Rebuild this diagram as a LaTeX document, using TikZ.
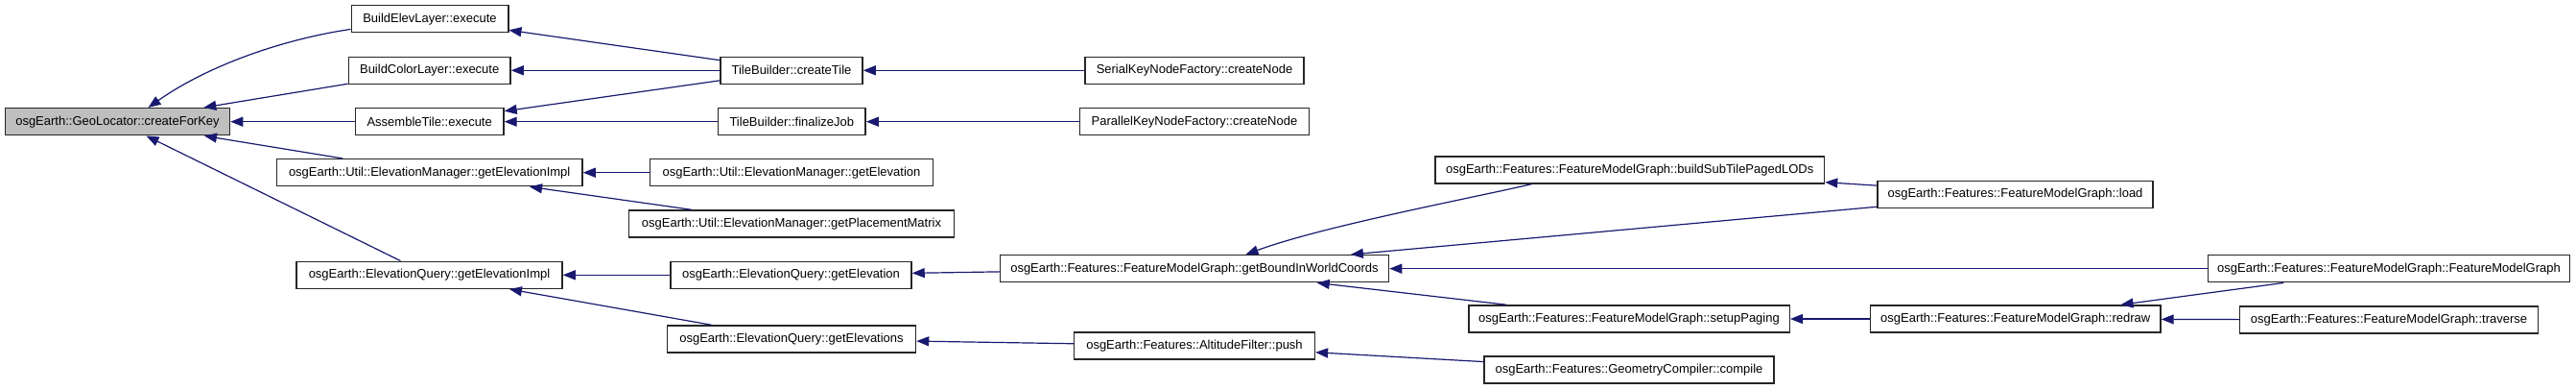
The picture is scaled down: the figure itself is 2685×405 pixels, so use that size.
\documentclass[tikz,border=0pt]{standalone}
\usepackage{fontspec}
\setmainfont{Liberation Sans}
\usetikzlibrary{arrows.meta}
\definecolor{edgeblue}{RGB}{25,25,112}
\definecolor{hlgray}{RGB}{191,191,191}
\begin{document}
\begin{tikzpicture}[x=1pt,y=-1pt,
  fn/.style={draw=black!85, line width=1.5pt, minimum height=28pt, inner sep=0pt,
             font=\fontsize{13}{15}\selectfont, fill=white},
  cur/.style={fn, fill=hlgray},
  edge/.style={draw=edgeblue, line width=1.2pt, -{Triangle[length=13pt,width=10pt]}}]
\useasboundingbox[fill=white] (0,0) rectangle (2685,405);

% column 0
\node[cur, minimum width=234pt] (cfk) at (122.5,126.7) {osgEarth::GeoLocator::createForKey};
% column 1
\node[fn, minimum width=163.5pt] (bel) at (448,19.7) {BuildElevLayer::execute};
\node[fn, minimum width=168.6pt] (bcl) at (447.7,73.3) {BuildColorLayer::execute};
\node[fn, minimum width=154.5pt] (ast) at (447.7,126.7) {AssembleTile::execute};
\node[fn, minimum width=318.6pt] (emgi) at (447.7,179.7) {osgEarth::Util::ElevationManager::getElevationImpl};
\node[fn, minimum width=277pt] (eqgi) at (447.5,286.3) {osgEarth::ElevationQuery::getElevationImpl};
% column 2
\node[fn, minimum width=148pt] (tbct) at (825,73.3) {TileBuilder::createTile};
\node[fn, minimum width=153.6pt] (tbfj) at (825.3,126.7) {TileBuilder::finalizeJob};
\node[fn, minimum width=294.7pt] (emge) at (825,179.7) {osgEarth::Util::ElevationManager::getElevation};
\node[fn, minimum width=338.8pt] (empm) at (825,233) {osgEarth::Util::ElevationManager::getPlacementMatrix};
\node[fn, minimum width=251pt] (eqge) at (824.5,286.3) {osgEarth::ElevationQuery::getElevation};
\node[fn, minimum width=259pt] (eqgs) at (825,353) {osgEarth::ElevationQuery::getElevations};
% column 3
\node[fn, minimum width=228pt] (sknf) at (1245,73.3) {SerialKeyNodeFactory::createNode};
\node[fn, minimum width=239pt] (pknf) at (1245,126.7) {ParallelKeyNodeFactory::createNode};
\node[fn, minimum width=405pt] (gbwc) at (1245,279.7) {osgEarth::Features::FeatureModelGraph::getBoundInWorldCoords};
\node[fn, minimum width=250.7pt] (altp) at (1245,359.8) {osgEarth::Features::AltitudeFilter::push};
% column 4
\node[fn, minimum width=405.7pt] (bstp) at (1698.7,176.8) {osgEarth::Features::FeatureModelGraph::buildSubTilePagedLODs};
\node[fn, minimum width=334.5pt] (setp) at (1698,332) {osgEarth::Features::FeatureModelGraph::setupPaging};
\node[fn, minimum width=301.6pt] (gcc) at (1698,385) {osgEarth::Features::GeometryCompiler::compile};
% column 5
\node[fn, minimum width=287pt] (load) at (2100.5,202.3) {osgEarth::Features::FeatureModelGraph::load};
\node[fn, minimum width=302.5pt] (redr) at (2100.7,332) {osgEarth::Features::FeatureModelGraph::redraw};
% column 6
\node[fn, minimum width=377pt] (fmg) at (2490,279.7) {osgEarth::Features::FeatureModelGraph::FeatureModelGraph};
\node[fn, minimum width=311pt] (trav) at (2490,333) {osgEarth::Features::FeatureModelGraph::traverse};

% edges (caller -> callee)
\draw[edge] ([yshift=4pt]bel.south west) .. controls (300,40) and (220,66) .. ([xshift=32pt]cfk.north);
\draw[edge] (bcl) -- (cfk);
\draw[edge] (ast) -- (cfk);
\draw[edge] (emgi) -- (cfk);
\draw[edge] (eqgi) -- (cfk);
\draw[edge] (tbct) -- (bel);
\draw[edge] (tbct) -- (bcl);
\draw[edge] (tbct) -- (ast);
\draw[edge] (tbfj) -- (ast);
\draw[edge] (sknf) -- (tbct);
\draw[edge] (pknf) -- (tbfj);
\draw[edge] (emge) -- (emgi);
\draw[edge] (empm) -- (emgi);
\draw[edge] (eqge) -- (eqgi);
\draw[edge] (eqgs) -- (eqgi);
\draw[edge] (gbwc) -- (eqge);
\draw[edge] (altp) -- (eqgs);
\draw[edge] ([xshift=-102pt]bstp.south) .. controls (1540,205) and (1380,235) .. ([xshift=53.5pt]gbwc.north);
\draw[edge] (load) -- (bstp);
\draw[edge] (load) -- (gbwc);
\draw[edge] (fmg) -- (gbwc);
\draw[edge] (setp) -- (gbwc);
\draw[edge] (redr) -- (setp);
\draw[edge] (fmg) -- (redr);
\draw[edge] (trav) -- (redr);
\draw[edge] (gcc) -- (altp);
\end{tikzpicture}
\end{document}
